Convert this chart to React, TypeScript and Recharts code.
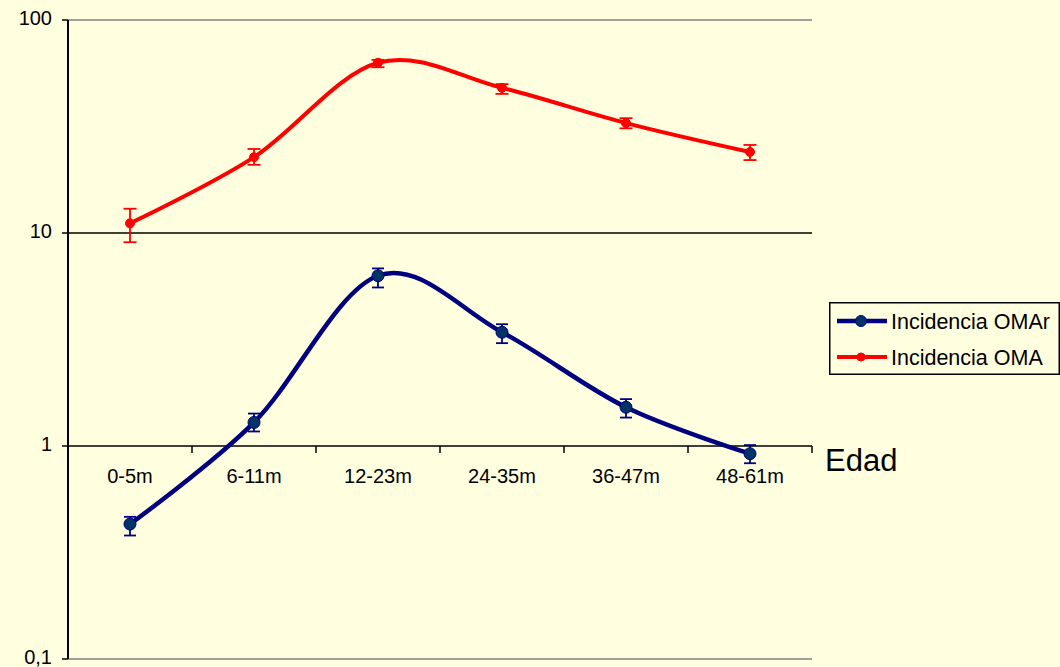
import React from 'react';
import { LineChart, Line, XAxis, YAxis, ReferenceLine, ErrorBar } from 'recharts';

const categories = ['0-5m', '6-11m', '12-23m', '24-35m', '36-47m', '48-61m'];
const omarValues = [0.43, 1.29, 6.3, 3.42, 1.52, 0.92];
const omarErrLow = [0.05, 0.12, 0.75, 0.38, 0.16, 0.09];
const omarErrHigh = [0.035, 0.13, 0.52, 0.31, 0.14, 0.09];
const omaValues = [11.1, 22.7, 63, 48, 32.8, 24];
const omaErrLow = [2.05, 1.8, 3, 3, 1.8, 2];
const omaErrHigh = [1.9, 2.1, 2, 2, 1.8, 1.9];
const yTicks = [0.1, 1, 10, 100];
const yTickLabels = ['0,1', '1', '10', '100'];
const yDomain: [number, number] = [0.1, 100];
const axisTitle = 'Edad';

const seriesInfo = [
  { key: 'omar', name: 'Incidencia OMAr', color: '#000080', dotFill: '#003366', r: 6, width: 4.5 },
  { key: 'oma', name: 'Incidencia OMA', color: '#FF0000', dotFill: '#FF0000', r: 4.5, width: 4 },
];

const data = categories.map((c, i) => ({
  cat: c,
  omar: omarValues[i],
  omarErr: [omarErrLow[i], omarErrHigh[i]],
  oma: omaValues[i],
  omaErr: [omaErrLow[i], omaErrHigh[i]],
}));

const W = 1060;
const H = 667;
const X_AXIS_H = 2;
const M = { top: 20, right: 248, bottom: 8 - X_AXIS_H, left: 0 };
const Y_AXIS_W = 68;
const PLOT_TOP = M.top;
const PLOT_H = H - M.top - M.bottom - X_AXIS_H;
const PLOT_W = W - M.left - M.right - Y_AXIS_W;
const BG = '#FFFFE0';
const FONT = 'Arial, "Liberation Sans", sans-serif';

const logPos = (v: number) =>
  PLOT_TOP + (PLOT_H * (Math.log10(yDomain[1]) - Math.log10(v))) / (Math.log10(yDomain[1]) - Math.log10(yDomain[0]));

// Excel-like smoothed line (cardinal spline, tension 0)
function excelSmooth(context: any) {
  const k = 1 / 6;
  let x0 = NaN, y0 = NaN, x1 = NaN, y1 = NaN, x2 = NaN, y2 = NaN;
  let pt = 0;
  let line: number = NaN;
  const seg = (x: number, y: number) =>
    context.bezierCurveTo(x1 + k * (x2 - x0), y1 + k * (y2 - y0), x2 + k * (x1 - x), y2 + k * (y1 - y), x2, y2);
  return {
    areaStart() { line = 0; },
    areaEnd() { line = NaN; },
    lineStart() { x0 = x1 = x2 = y0 = y1 = y2 = NaN; pt = 0; },
    lineEnd() {
      if (pt === 2) context.lineTo(x2, y2);
      else if (pt === 3) seg(x1, y1);
      if (line || (line !== 0 && pt === 1)) context.closePath();
      line = 1 - line;
    },
    point(xx: number, yy: number) {
      const x = +xx, y = +yy;
      switch (pt) {
        case 0: pt = 1; if (line) context.lineTo(x, y); else context.moveTo(x, y); break;
        case 1: pt = 2; x1 = x; y1 = y; break;
        case 2: pt = 3; seg(x, y); break;
        default: seg(x, y); break;
      }
      x0 = x1; x1 = x2; x2 = x;
      y0 = y1; y1 = y2; y2 = y;
    },
  };
}

const XTick = (props: any) => {
  const { x, payload, index } = props;
  const yOne = logPos(1);
  const band = PLOT_W / categories.length;
  return (
    <g>
      <line x1={x - band / 2} x2={x - band / 2} y1={yOne} y2={yOne + 7} stroke="#000" strokeWidth={1.5} />
      {index === categories.length - 1 && (
        <line x1={x + band / 2} x2={x + band / 2} y1={yOne} y2={yOne + 7} stroke="#000" strokeWidth={1.5} />
      )}
      <text x={x} y={yOne + 37} textAnchor="middle" fontSize={20} fill="#000" fontFamily={FONT}>
        {payload.value}
      </text>
    </g>
  );
};

const YTick = (props: any) => {
  const { y, payload } = props;
  const axisX = M.left + Y_AXIS_W;
  const label = yTickLabels[yTicks.indexOf(payload.value)] ?? String(payload.value);
  return (
    <g>
      <line x1={axisX - 6} x2={axisX} y1={y} y2={y} stroke="#000" strokeWidth={1.5} />
      <text x={axisX - 16} y={y + 5} textAnchor="end" fontSize={20} fill="#000" fontFamily={FONT}>
        {label}
      </text>
    </g>
  );
};

const EdadLabel = (props: any) => {
  const vb = props.viewBox || {};
  return (
    <text x={vb.x + vb.width + 13} y={vb.y + 25} fontSize={31} fill="#000" fontFamily={FONT}>
      {axisTitle}
    </text>
  );
};

export default function App() {
  return (
    <div style={{ position: 'absolute', left: 0, top: 0, width: W, height: H, background: BG, fontFamily: FONT }}>
      <LineChart width={W} height={H} data={data} margin={M} style={{ fontFamily: FONT }}>
        <XAxis
          dataKey="cat"
          scale="band"
          height={X_AXIS_H}
          interval={0}
          tickLine={false}
          axisLine={{ stroke: '#808080', strokeWidth: 1.5 }}
          tick={(p: any) => <XTick {...p} />}
        />
        <YAxis
          type="number"
          scale="log"
          domain={yDomain}
          allowDataOverflow
          ticks={yTicks}
          interval={0}
          width={Y_AXIS_W}
          tickLine={false}
          tick={(p: any) => <YTick {...p} />}
          axisLine={{ stroke: '#000', strokeWidth: 2 }}
        />
        <YAxis
          yAxisId="right"
          orientation="right"
          width={0}
          tick={false}
          tickLine={false}
          axisLine={{ stroke: '#808080', strokeWidth: 1.5 }}
        />
        <ReferenceLine y={100} stroke="#808080" strokeWidth={1.5} />
        <ReferenceLine y={10} stroke="#000" strokeWidth={1.5} />
        <ReferenceLine y={1} stroke="#000" strokeWidth={1.5} label={<EdadLabel />} />
        <Line
          dataKey="omar"
          name={seriesInfo[0].name}
          type={excelSmooth as any}
          stroke={seriesInfo[0].color}
          strokeWidth={seriesInfo[0].width}
          dot={{ r: seriesInfo[0].r, fill: seriesInfo[0].dotFill, stroke: seriesInfo[0].color, strokeWidth: 1 }}
          activeDot={false}
          isAnimationActive={false}
        >
          <ErrorBar dataKey="omarErr" direction="y" width={6} stroke={seriesInfo[0].color} strokeWidth={1.8} />
        </Line>
        <Line
          dataKey="oma"
          name={seriesInfo[1].name}
          type={excelSmooth as any}
          stroke={seriesInfo[1].color}
          strokeWidth={seriesInfo[1].width}
          dot={{ r: seriesInfo[1].r, fill: seriesInfo[1].dotFill, stroke: seriesInfo[1].color, strokeWidth: 1 }}
          activeDot={false}
          isAnimationActive={false}
        >
          <ErrorBar dataKey="omaErr" direction="y" width={6.5} stroke={seriesInfo[1].color} strokeWidth={1.8} />
        </Line>
      </LineChart>
      <svg
        style={{ position: 'absolute', left: 829, top: 302 }}
        width={231}
        height={73}
      >
        <rect x={0.75} y={0.75} width={229.5} height={71.5} fill={BG} stroke="#000" strokeWidth={1.5} />
        {seriesInfo.map((s, i) => {
          const cy = 19 + i * 36;
          return (
            <g key={s.key}>
              <line x1={8} x2={58} y1={cy} y2={cy} stroke={s.color} strokeWidth={s.width} />
              <circle cx={32} cy={cy} r={s.r - 0.5} fill={s.dotFill} stroke={s.color} strokeWidth={1} />
              <text x={62} y={cy + 7.5} fontSize={21.5} fill="#000" fontFamily={FONT}>
                {s.name}
              </text>
            </g>
          );
        })}
      </svg>
    </div>
  );
}
